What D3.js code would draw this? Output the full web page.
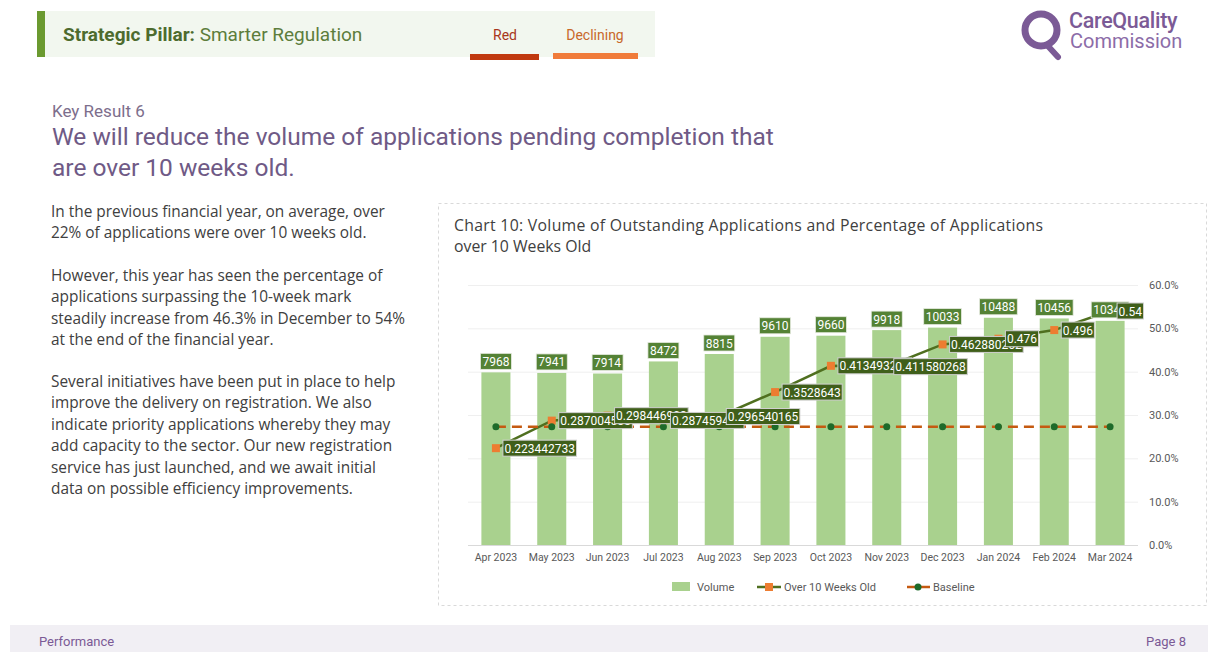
<!DOCTYPE html>
<meta charset="utf-8">
<style>
  body { margin: 0; background: #fff; }
  svg { display: block; font-family: Roboto, "Open Sans", sans-serif; }
</style>
<body>
<script src="https://cdn.jsdelivr.net/npm/d3@7"></script>
<script>

// chart data
var months = ["Apr 2023", "May 2023", "Jun 2023", "Jul 2023", "Aug 2023", "Sep 2023",
              "Oct 2023", "Nov 2023", "Dec 2023", "Jan 2024", "Feb 2024", "Mar 2024"];
var volume = [7968, 7941, 7914, 8472, 8815, 9610, 9660, 9918, 10033, 10488, 10456, 10345];
var over10 = [0.223442733, 0.287004505, 0.298446903, 0.287459459, 0.296540165, 0.3528643,
              0.413493246, 0.411580268, 0.462880262, 0.476, 0.496, 0.54];
var baseline = [0.273, 0.273, 0.273, 0.273, 0.273, 0.273, 0.273, 0.273, 0.273, 0.273, 0.273, 0.273];
var pctTicks = [0, 0.1, 0.2, 0.3, 0.4, 0.5, 0.6];

var body1 = ["In the previous financial year, on average, over",
             "22% of applications were over 10 weeks old."];
var body2 = ["However, this year has seen the percentage of",
             "applications surpassing the 10-week mark",
             "steadily increase from 46.3% in December to 54%",
             "at the end of the financial year."];
var body3 = ["Several initiatives have been put in place to help",
             "improve the delivery on registration. We also",
             "indicate priority applications whereby they may",
             "add capacity to the sector. Our new registration",
             "service has just launched, and we await initial",
             "data on possible efficiency improvements."];

var svg = d3.select("body").append("svg")
    .attr("width", 1208)
    .attr("height", 652);

// ---- page header ----
svg.append("rect").attr("x", 37).attr("y", 11).attr("width", 618).attr("height", 46).attr("fill", "#f2f7ef");
svg.append("rect").attr("x", 37).attr("y", 11).attr("width", 8).attr("height", 46).attr("fill", "#6b9a30");
var pill = svg.append("text").attr("x", 63).attr("y", 41).style("font-size", "19px").attr("fill", "#4d6b2e");
pill.append("tspan").style("font-weight", "bold").text("Strategic Pillar: ");
pill.append("tspan").attr("fill", "#5d7d3c").text("Smarter Regulation");

svg.append("text").attr("x", 505).attr("y", 40).attr("text-anchor", "middle")
    .style("font-size", "14px").attr("fill", "#a8361c").text("Red");
svg.append("rect").attr("x", 470).attr("y", 54).attr("width", 69).attr("height", 6).attr("fill", "#c0390f");
svg.append("text").attr("x", 595).attr("y", 40).attr("text-anchor", "middle")
    .style("font-size", "14px").attr("fill", "#c8682a").text("Declining");
svg.append("rect").attr("x", 553).attr("y", 53).attr("width", 85).attr("height", 6).attr("fill", "#f07b3a");

// logo
svg.append("circle").attr("cx", 1041).attr("cy", 30).attr("r", 16)
    .attr("fill", "none").attr("stroke", "#7b5a96").attr("stroke-width", 7);
svg.append("line").attr("x1", 1047).attr("y1", 45).attr("x2", 1058).attr("y2", 57)
    .attr("stroke", "#7b5a96").attr("stroke-width", 6).attr("stroke-linecap", "round");
svg.append("text").attr("x", 1069).attr("y", 28).style("font-size", "21.5px").style("font-weight", "500")
    .attr("fill", "#7b5a96").attr("letter-spacing", "-0.3").text("CareQuality");
svg.append("text").attr("x", 1070).attr("y", 48).style("font-size", "20px")
    .attr("fill", "#8c6ca8").text("Commission");

// ---- key result heading ----
svg.append("text").attr("x", 52).attr("y", 117).style("font-size", "17px")
    .attr("fill", "#7d6e8c").text("Key Result 6");
svg.append("text").attr("x", 52).attr("y", 145).style("font-size", "24.5px")
    .attr("fill", "#6f5a86").text("We will reduce the volume of applications pending completion that");
svg.append("text").attr("x", 52).attr("y", 176).style("font-size", "24.5px")
    .attr("fill", "#6f5a86").text("are over 10 weeks old.");

// ---- body text ----
function para(lines, y0) {
  lines.forEach(function(t, i) {
    svg.append("text").attr("x", 51).attr("y", y0 + i * 21.4)
      .style("font-family", "'Open Sans'").style("font-size", "15.4px")
      .attr("fill", "#404040").text(t);
  });
}
para(body1, 217);
para(body2, 281);
para(body3, 387);

// ---- footer ----
svg.append("rect").attr("x", 10).attr("y", 625).attr("width", 1198).attr("height", 27).attr("fill", "#f1eff4");
svg.append("text").attr("x", 39).attr("y", 646).style("font-size", "13px").attr("fill", "#7b5a96").text("Performance");
svg.append("text").attr("x", 1186).attr("y", 646).attr("text-anchor", "end")
    .style("font-size", "13px").attr("fill", "#7b5a96").text("Page 8");

// ---- chart frame + title ----
svg.append("rect").attr("x", 438.5).attr("y", 203.5).attr("width", 768).attr("height", 402)
    .attr("fill", "none").attr("stroke", "#d9d9d9").attr("stroke-dasharray", "3,3");
svg.append("text").attr("x", 454).attr("y", 231).style("font-family", "'Open Sans'")
    .style("font-size", "15.8px").attr("fill", "#404040")
    .attr("textLength", 589).attr("lengthAdjust", "spacing")
    .text("Chart 10: Volume of Outstanding Applications and Percentage of Applications");
svg.append("text").attr("x", 454).attr("y", 252).style("font-family", "'Open Sans'")
    .style("font-size", "15.8px").attr("fill", "#404040")
    .text("over 10 Weeks Old");

// ---- scales ----
var x = d3.scaleBand().domain(months).range([468, 1138]).paddingInner(0.48).paddingOuter(0.24);
var yVol = d3.scaleLinear().domain([0, 12000]).range([545, 285]);   // hidden primary axis
var yPct = d3.scaleLinear().domain([0, 0.6]).range([545, 285]);
var cx = function(d, i) { return x(months[i]) + x.bandwidth() / 2; };

// gridlines
svg.append("g")
    .attr("transform", "translate(1138,0)")
    .call(d3.axisLeft(yPct).tickValues(pctTicks).tickSize(670).tickFormat(""))
    .call(function(g) { g.select(".domain").remove(); })
    .selectAll("line").attr("stroke", function(d) { return d === 0 ? "#d9d9d9" : "#efefef"; });

// right axis
svg.append("g")
    .attr("transform", "translate(1146,0)")
    .call(d3.axisRight(yPct).tickValues(pctTicks).tickSize(0).tickFormat(d3.format(".1%")))
    .call(function(g) { g.select(".domain").remove(); })
    .selectAll("text").style("font-size", "11px").style("font-family", "Roboto").attr("fill", "#595959");

// bottom axis labels
svg.append("g")
    .attr("transform", "translate(0,548)")
    .call(d3.axisBottom(x).tickSize(0).tickPadding(6))
    .call(function(g) { g.select(".domain").remove(); })
    .selectAll("text").style("font-size", "10.5px").style("font-family", "Roboto").attr("fill", "#595959");

// bars
svg.selectAll(".bar")
    .data(volume)
  .enter().append("rect")
    .attr("class", "bar")
    .attr("x", function(d, i) { return x(months[i]); })
    .attr("width", x.bandwidth())
    .attr("y", function(d) { return yVol(d); })
    .attr("height", function(d) { return 545 - yVol(d); })
    .attr("fill", "#a9d18e");

// over 10 weeks line
svg.append("path")
    .datum(over10)
    .attr("fill", "none")
    .attr("stroke", "#4f6f1f")
    .attr("stroke-width", 2.5)
    .attr("d", d3.line().x(cx).y(function(d) { return yPct(d); }));
svg.selectAll(".sq")
    .data(over10)
  .enter().append("rect")
    .attr("x", function(d, i) { return cx(d, i) - 4; })
    .attr("y", function(d) { return yPct(d) - 4; })
    .attr("width", 8).attr("height", 8)
    .attr("fill", "#ed7d31");

// baseline
svg.append("path")
    .datum(baseline)
    .attr("fill", "none")
    .attr("stroke", "#c55a11")
    .attr("stroke-width", 2.5)
    .attr("stroke-dasharray", "10,6")
    .attr("d", d3.line().x(cx).y(function(d) { return yPct(d); }));
svg.selectAll(".dot")
    .data(baseline)
  .enter().append("circle")
    .attr("cx", cx)
    .attr("cy", function(d) { return yPct(d); })
    .attr("r", 3.5)
    .attr("fill", "#1e6b2a");

// volume labels
volume.forEach(function(v, i) {
  var g = svg.append("g");
  var r = g.append("rect").attr("fill", "#548235").attr("stroke", "#e5eadf").attr("stroke-width", 0.8);
  var t = g.append("text").attr("x", cx(v, i)).attr("y", yVol(v) - 6.5)
      .attr("text-anchor", "middle").attr("fill", "#fff").style("font-size", "12px").text(v);
  var w = t.node().getComputedTextLength() + 4;
  r.attr("x", cx(v, i) - w / 2).attr("y", yVol(v) - 19).attr("width", w).attr("height", 16);
});

// percentage labels (drawn in order, later ones cover earlier ones)
over10.forEach(function(v, i) {
  var g = svg.append("g");
  var x0 = cx(v, i) + 7, yc = yPct(v);
  var r = g.append("rect").attr("fill", "#3f5f1a").attr("stroke", "#d0d0d0").attr("stroke-width", 1);
  var t = g.append("text").attr("x", x0 + 1.5).attr("y", yc + 4.5)
      .attr("fill", "#fff").style("font-size", "12px").text(String(v));
  var w = t.node().getComputedTextLength() + 3;
  r.attr("x", x0).attr("y", yc - 8).attr("width", w).attr("height", 16);
});

// legend
var ly = 587;
svg.append("rect").attr("x", 672).attr("y", ly - 5).attr("width", 18).attr("height", 9).attr("fill", "#a9d18e");
svg.append("text").attr("x", 697).attr("y", ly + 4).style("font-size", "11px").attr("fill", "#595959").text("Volume");
svg.append("line").attr("x1", 757).attr("x2", 781).attr("y1", ly).attr("y2", ly)
    .attr("stroke", "#4f6f1f").attr("stroke-width", 2.5);
svg.append("rect").attr("x", 765).attr("y", ly - 4).attr("width", 8).attr("height", 8).attr("fill", "#ed7d31");
svg.append("text").attr("x", 784).attr("y", ly + 4).style("font-size", "11px").attr("fill", "#595959").text("Over 10 Weeks Old");
svg.append("line").attr("x1", 907).attr("x2", 930).attr("y1", ly).attr("y2", ly)
    .attr("stroke", "#c55a11").attr("stroke-width", 2.5);
svg.append("circle").attr("cx", 918).attr("cy", ly).attr("r", 3.5).attr("fill", "#1e6b2a");
svg.append("text").attr("x", 933).attr("y", ly + 4).style("font-size", "11px").attr("fill", "#595959").text("Baseline");

</script>
